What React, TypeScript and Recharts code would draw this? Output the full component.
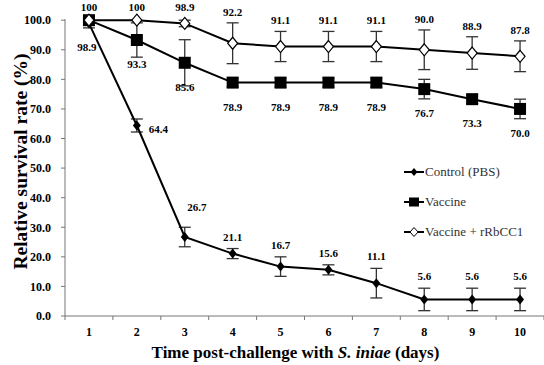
import React from 'react';
import { LineChart, Line, XAxis, YAxis, ErrorBar, LabelList, Legend, Label } from 'recharts';

// Survival data (%) by day post-challenge, with error bar half-widths
const days = [1, 2, 3, 4, 5, 6, 7, 8, 9, 10];
const controlPBS = [98.9, 64.4, 26.7, 21.1, 16.7, 15.6, 11.1, 5.6, 5.6, 5.6];
const controlErr = [1.5, 2.2, 3.3, 1.7, 3.3, 1.7, 5.0, 3.8, 3.8, 3.8];
const vaccine = [100, 93.3, 85.6, 78.9, 78.9, 78.9, 78.9, 76.7, 73.3, 70.0];
const vaccineErr = [0, 5.8, 7.8, 1.5, 1.5, 1.5, 1.5, 3.3, 1.5, 3.3];
const vaccineRb = [100, 100, 98.9, 92.2, 91.1, 91.1, 91.1, 90.0, 88.9, 87.8];
const vaccineRbErr = [0, 0, 1.1, 6.9, 5.1, 5.1, 5.1, 6.7, 5.5, 5.2];
const yTicks = [0, 10, 20, 30, 40, 50, 60, 70, 80, 90, 100];
const xTicks = [0.5, 1, 1.5, 2, 2.5, 3, 3.5, 4, 4.5, 5, 5.5, 6, 6.5, 7, 7.5, 8, 8.5, 9, 9.5, 10, 10.5];
const seriesNames = ['Control (PBS)', 'Vaccine', 'Vaccine + rRbCC1'];

const data = days.map((d, i) => ({
  day: d,
  ctrl: controlPBS[i],
  ctrlErr: controlErr[i],
  vac: vaccine[i],
  vacErr: vaccineErr[i],
  rb: vaccineRb[i],
  rbErr: vaccineRbErr[i],
}));

const WIDTH = 544;
const HEIGHT = 365;
const MARGIN = { top: 19, right: 0, bottom: 0, left: 0 };
const X_AXIS_H = 49;
const PX_PER_UNIT = (HEIGHT - MARGIN.top - MARGIN.bottom - X_AXIS_H) / 100;

const SERIF = '"Liberation Serif", "Times New Roman", serif';
const labelStyle = { fontFamily: SERIF, fontWeight: 700, fontSize: 11, fill: '#000' };

const fmt = (v: number) => (v === 100 ? '100' : v.toFixed(1));

const diamondPath = (cx: number, cy: number, w: number, h: number) =>
  `M${cx},${cy - h} L${cx + w},${cy} L${cx},${cy + h} L${cx - w},${cy} Z`;

const ControlDot = (p: any) => {
  if (p.cx == null) return null;
  return <path key={p.key} d={diamondPath(p.cx, p.cy, 4, 5)} fill="#000" />;
};
const VaccineDot = (p: any) => {
  if (p.cx == null) return null;
  return <rect key={p.key} x={p.cx - 6} y={p.cy - 6} width={12} height={12} fill="#000" />;
};
const RbDot = (p: any) => {
  if (p.cx == null) return null;
  return <path key={p.key} d={diamondPath(p.cx, p.cy, 5, 6)} fill="#fff" stroke="#000" strokeWidth={1.2} />;
};

const ControlLabel = (p: any) => {
  const { x, y, value, index } = p;
  if (x == null) return null;
  let tx = x;
  let ty = y - (controlErr[index] * PX_PER_UNIT + 12);
  let anchor: 'middle' | 'start' = 'middle';
  if (index === 0) {
    tx = x - 2;
    ty = y + 24;
  } else if (index === 1) {
    tx = x + 12;
    ty = y + 4;
    anchor = 'start';
  } else if (index === 2) {
    tx = x + 12;
    ty = y - 30;
  }
  return (
    <text x={tx} y={ty} textAnchor={anchor} dominantBaseline="central" style={labelStyle}>
      {fmt(value)}
    </text>
  );
};

const VaccineLabel = (p: any) => {
  const { x, y, value, index } = p;
  if (x == null || index === 0) return null;
  return (
    <text x={x} y={y + 24} textAnchor="middle" dominantBaseline="central" style={labelStyle}>
      {fmt(value)}
    </text>
  );
};

const RbLabel = (p: any) => {
  const { x, y, value, index } = p;
  if (x == null) return null;
  const top = y - Math.max(vaccineRbErr[index] * PX_PER_UNIT, 5);
  return (
    <text x={x} y={Math.max(top - 11, 7)} textAnchor="middle" dominantBaseline="central" style={labelStyle}>
      {fmt(value)}
    </text>
  );
};

// Day labels at integer ticks, short marks at the half-day boundaries
const XTick = (p: any) => {
  const { x, y, payload } = p;
  const v = payload.value as number;
  const axisY = y - 11;
  if (!Number.isInteger(v)) {
    return <line x1={x} x2={x} y1={axisY} y2={axisY + 4} stroke="#777" strokeWidth={1} />;
  }
  return (
    <text x={x} y={y} dy="0.71em" textAnchor="middle" style={{ fontFamily: SERIF, fontWeight: 700, fontSize: 12, fill: '#000' }}>
      {v}
    </text>
  );
};

const LegendIcon = ({ kind }: { kind: number }) => (
  <svg width={20} height={14} style={{ display: 'block' }}>
    <line x1={0} x2={20} y1={7} y2={7} stroke="#000" strokeWidth={2} />
    {kind === 0 && <path d={diamondPath(10, 7, 3.5, 4)} fill="#000" />}
    {kind === 1 && <rect x={5} y={2.5} width={10} height={9} fill="#000" />}
    {kind === 2 && <path d={diamondPath(10, 7, 4, 4.5)} fill="#fff" stroke="#000" strokeWidth={1} />}
  </svg>
);

const LegendBox = () => (
  <div style={{ fontFamily: SERIF, fontSize: 13, color: '#333' }}>
    {seriesNames.map((name, i) => (
      <div key={name} style={{ display: 'flex', alignItems: 'center', height: 30 }}>
        <LegendIcon kind={i} />
        <span style={{ marginLeft: 1 }}>{name}</span>
      </div>
    ))}
  </div>
);

const XTitle = (p: any) => {
  const vb = p.viewBox;
  const cx = vb.x + vb.width / 2 - 9;
  return (
    <text x={cx} y={HEIGHT - 7} textAnchor="middle" style={{ fontFamily: SERIF, fontWeight: 700, fontSize: 17, fill: '#000' }}>
      Time post-challenge with <tspan fontStyle="italic">S. iniae</tspan> (days)
    </text>
  );
};

const YTitle = (p: any) => {
  const vb = p.viewBox;
  const cy = vb.y + vb.height / 2 - 6;
  return (
    <text
      x={20}
      y={cy}
      transform={`rotate(-90, 20, ${cy})`}
      textAnchor="middle"
      dominantBaseline="central"
      style={{ fontFamily: SERIF, fontWeight: 700, fontSize: 19.5, fill: '#000' }}
    >
      Relative survival rate (%)
    </text>
  );
};

export default function App() {
  return (
    <div style={{ position: 'absolute', left: 0, top: 0, width: WIDTH, height: HEIGHT, background: '#fff' }}>
      <LineChart width={WIDTH} height={HEIGHT} data={data} margin={MARGIN}>
        <XAxis
          dataKey="day"
          type="number"
          domain={[0.5, 10.5]}
          ticks={xTicks}
          interval={0}
          height={X_AXIS_H}
          tickLine={false}
          tickSize={0}
          tickMargin={11}
          tick={<XTick />}
          axisLine={{ stroke: '#777', strokeWidth: 1 }}
        >
          <Label content={<XTitle />} />
        </XAxis>
        <YAxis
          type="number"
          domain={[0, 100]}
          ticks={yTicks}
          interval={0}
          width={65}
          tickSize={4}
          tickMargin={10}
          tickFormatter={(v: number) => v.toFixed(1)}
          tick={{ fontFamily: SERIF, fontWeight: 700, fontSize: 12, fill: '#000' }}
          tickLine={{ stroke: '#777' }}
          axisLine={{ stroke: '#777', strokeWidth: 1 }}
        >
          <Label content={<YTitle />} />
        </YAxis>
        <Legend
          layout="vertical"
          align="center"
          verticalAlign="middle"
          content={<LegendBox />}
          wrapperStyle={{ position: 'absolute', left: 404, top: 157, width: 140 }}
        />
        <Line
          dataKey="ctrl"
          name={seriesNames[0]}
          stroke="#000"
          strokeWidth={2}
          dot={ControlDot}
          activeDot={false}
          isAnimationActive={false}
        >
          <ErrorBar dataKey="ctrlErr" width={6} stroke="#333" strokeWidth={1.3} direction="y" />
          <LabelList dataKey="ctrl" content={<ControlLabel />} />
        </Line>
        <Line
          dataKey="vac"
          name={seriesNames[1]}
          stroke="#000"
          strokeWidth={2}
          dot={VaccineDot}
          activeDot={false}
          isAnimationActive={false}
        >
          <ErrorBar dataKey="vacErr" width={6} stroke="#333" strokeWidth={1.3} direction="y" />
          <LabelList dataKey="vac" content={<VaccineLabel />} />
        </Line>
        <Line
          dataKey="rb"
          name={seriesNames[2]}
          stroke="#000"
          strokeWidth={2}
          dot={RbDot}
          activeDot={false}
          isAnimationActive={false}
        >
          <ErrorBar dataKey="rbErr" width={6} stroke="#333" strokeWidth={1.3} direction="y" />
          <LabelList dataKey="rb" content={<RbLabel />} />
        </Line>
      </LineChart>
    </div>
  );
}
